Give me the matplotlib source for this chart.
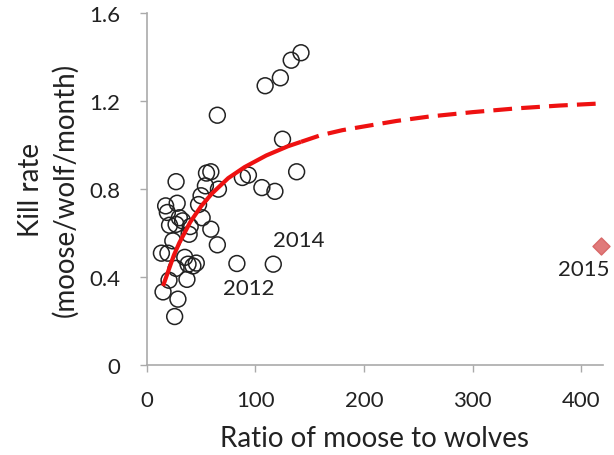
import matplotlib.pyplot as plt

# observed kill rates
ratio = [27, 65, 109, 123, 133, 142, 125, 138, 118, 106, 88, 93.6, 55, 59, 54, 66,
         50, 47.7, 17.4, 28, 19, 30, 51, 21, 27, 33, 40, 39, 59, 65, 24, 13.5,
         19.5, 35, 38, 42.5, 45.6, 27, 20.5, 37, 15, 28.7, 25.7, 83, 116.5]
kill = [0.834, 1.136, 1.27, 1.306, 1.386, 1.42, 1.027, 0.879, 0.79, 0.807, 0.853,
        0.864, 0.873, 0.879, 0.815, 0.80, 0.77, 0.73, 0.724, 0.736, 0.694, 0.67,
        0.67, 0.636, 0.64, 0.656, 0.63, 0.595, 0.618, 0.547, 0.565, 0.509, 0.509,
        0.49, 0.459, 0.451, 0.464, 0.44, 0.386, 0.39, 0.333, 0.30, 0.221, 0.462, 0.459]

# fitted response curve
fit_x = [15, 20, 25, 30, 40, 50, 60, 75, 90, 110, 130, 142]
fit_y = [0.36, 0.43, 0.50, 0.556, 0.65, 0.722, 0.78, 0.85, 0.90, 0.953, 0.995, 1.015]
ext_x = [142, 160, 180, 200, 230, 260, 300, 340, 380, 420]
ext_y = [1.015, 1.045, 1.068, 1.085, 1.11, 1.13, 1.15, 1.167, 1.18, 1.19]

x2015, y2015 = 418, 0.54

plt.rcParams['font.family'] = ['Lato', 'DejaVu Sans']
dpi = 100
fig = plt.figure(figsize=(6.14, 4.56), dpi=dpi)
ax = fig.add_axes([0.239, 0.197, 0.743, 0.772])

ax.scatter(ratio, kill, s=130, facecolors='none', edgecolors='#222222', linewidths=1.1, zorder=3)
ax.plot(fit_x, fit_y, color='#ee1111', lw=3, solid_capstyle='butt', zorder=4)
ax.plot(ext_x, ext_y, color='#ee1111', lw=3, dashes=(4.5, 2.2), zorder=4)
ax.scatter([x2015], [y2015], marker='D', s=75, color='#e07a7a', edgecolors='#d86868',
           zorder=5, clip_on=False)

ax.text(94, 0.35, '2012', fontsize=16, ha='center', va='center', color='#222222')
ax.text(140, 0.568, '2014', fontsize=16, ha='center', va='center', color='#222222')
ax.text(402, 0.435, '2015', fontsize=16, ha='center', va='center', color='#222222')

ax.set_xlim(0, 420)
ax.set_ylim(0, 1.6)
ax.set_xticks([0, 100, 200, 300, 400])
ax.set_yticks([0, 0.4, 0.8, 1.2, 1.6])
ax.set_yticklabels(['0', '0.4', '0.8', '1.2', '1.6'])
ax.tick_params(labelsize=16, colors='#aaaaaa', labelcolor='#222222', length=5, width=1)
ax.tick_params(axis='y', pad=14)
ax.tick_params(axis='x', pad=13)
for s in ['top', 'right']:
    ax.spines[s].set_visible(False)
for s in ['left', 'bottom']:
    ax.spines[s].set_color('#aaaaaa')
    ax.spines[s].set_linewidth(1.2)

ax.set_xlabel('Ratio of moose to wolves', fontsize=20, color='#222222')
ax.xaxis.set_label_coords(0.5, -0.17)
ax.set_ylabel('Kill rate\n(moose/wolf/month)', fontsize=20, color='#222222',
              linespacing=1.35)
ax.yaxis.set_label_coords(-0.15, 0.5)

fig.savefig('out.png', dpi=dpi)
